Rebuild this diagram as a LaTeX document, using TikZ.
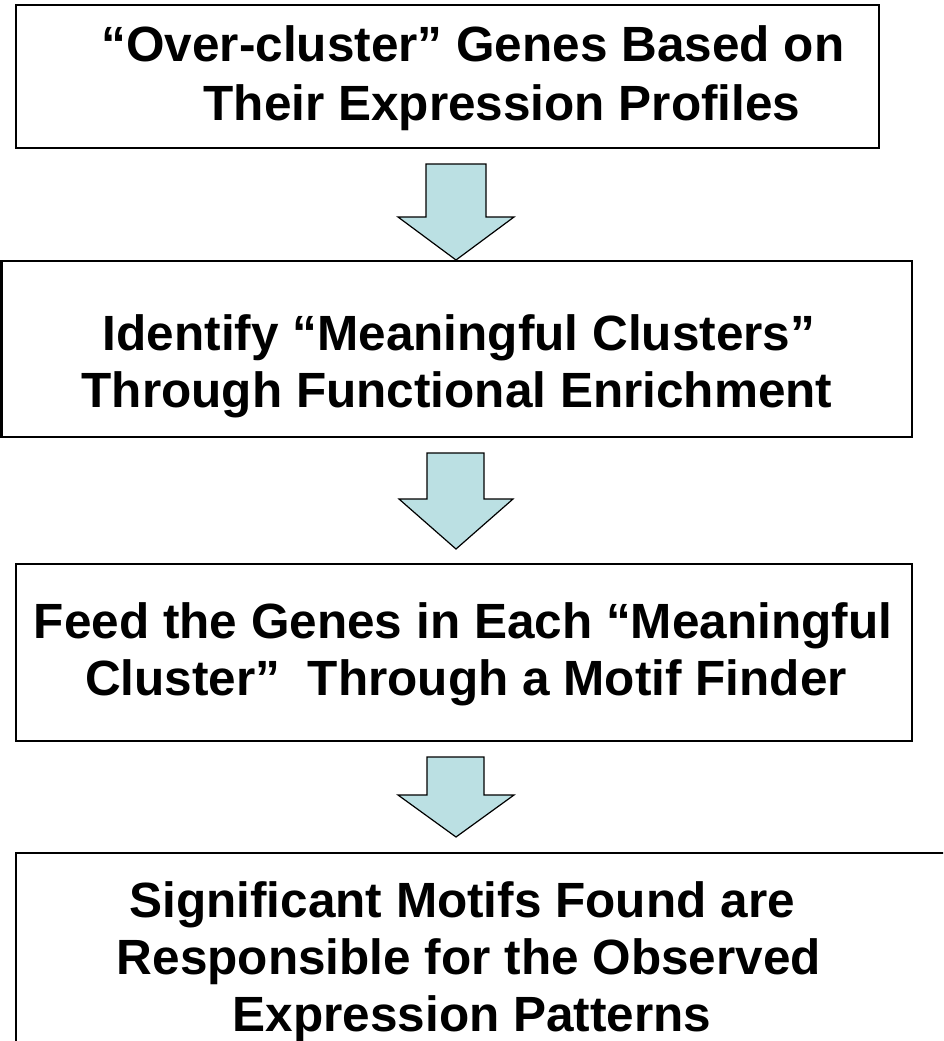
\documentclass[tikz,border=0pt]{standalone}
\usepackage{fontspec}
\setmainfont{Liberation Sans}
\begin{document}
\begin{tikzpicture}[x=1pt,y=-1pt,
  box/.style={draw=black,line width=2.6pt,fill=white},
  blockarrow/.style={draw=black,line width=1.2pt,fill=arrowfill,line join=miter},
  txt/.style={anchor=base,inner sep=0pt,font=\fontsize{49.5}{57}\selectfont\bfseries}]
\definecolor{arrowfill}{RGB}{187,224,227}
\useasboundingbox (0,0) rectangle (943,1041);
\clip (0,0) rectangle (943,1041);
% boxes
\draw[box] (16,5) rectangle (879,148);
\draw[box] (1.5,261) rectangle (912,437);
\draw[box] (16,564) rectangle (912,741);
\draw[box] (16,853) rectangle (960,1060);
% block arrows
\draw[blockarrow] (426,164) -- (486,164) -- (486,217) -- (514,217) -- (456,260) -- (398,217) -- (426,217) -- cycle;
\draw[blockarrow] (427,453) -- (484,453) -- (484,499) -- (513,499) -- (456,549) -- (399,499) -- (427,499) -- cycle;
\draw[blockarrow] (427,757) -- (484,757) -- (484,795) -- (514,795) -- (456,837) -- (398,795) -- (427,795) -- cycle;
% texts
\node[txt] (t11) at (473,62) {“Over-cluster” Genes Based on};
\node[txt] (t12) at (502,120) {Their Expression Profiles};
\node[txt] (t21) at (459,350) {Identify “Meaningful Clusters”};
\node[txt] (t22) at (457,407) {Through Functional Enrichment};
\node[txt] (t31) at (463,638) {Feed the Genes in Each “Meaningful};
\node[txt] (t32) at (466,695) {Cluster”\ \ Through a Motif Finder};
\node[txt] (t41) at (462,917) {Significant Motifs Found are};
\node[txt] (t42) at (469,974) {Responsible for the Observed};
\node[txt] (t43) at (472,1031) {Expression Patterns};
\end{tikzpicture}
\end{document}
